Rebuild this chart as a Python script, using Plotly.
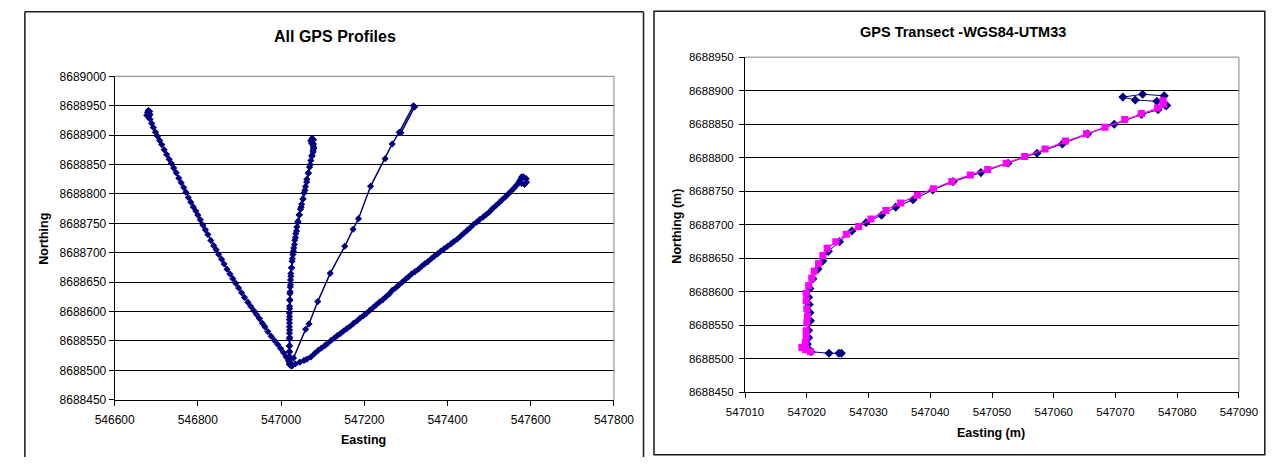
import plotly.graph_objects as go

# ---------------- data ----------------
# Profile 1 (north-west leg)
p1_east = [547026, 547022, 547018, 547012, 547006, 546999, 546992, 546984, 546976, 546968,
           546961, 546955, 546948, 546941, 546934, 546927, 546920, 546912, 546905, 546898,
           546891, 546884, 546877, 546870, 546863, 546857, 546850, 546844, 546838, 546831,
           546824, 546818, 546812, 546806, 546800, 546795, 546789, 546783, 546777, 546771,
           546766, 546760, 546754, 546748, 546742, 546736, 546731, 546725, 546719, 546713,
           546708, 546703, 546698, 546693, 546689, 546685, 546682, 546679, 546681, 546684,
           546685, 546681, 546677]
p1_north = [8688508, 8688512, 8688517, 8688523, 8688530, 8688537, 8688544, 8688551, 8688558, 8688566,
            8688574, 8688580, 8688588, 8688595, 8688602, 8688609, 8688616, 8688624, 8688632, 8688640,
            8688648, 8688656, 8688664, 8688672, 8688681, 8688689, 8688697, 8688705, 8688712, 8688721,
            8688731, 8688739, 8688747, 8688756, 8688764, 8688771, 8688778, 8688786, 8688794, 8688803,
            8688811, 8688819, 8688827, 8688836, 8688844, 8688852, 8688859, 8688867, 8688875, 8688884,
            8688891, 8688898, 8688905, 8688913, 8688920, 8688927, 8688933, 8688939, 8688942, 8688940,
            8688935, 8688931, 8688934]

# Profile 3 (north-east leg, sparse)
p3_east = [547030, 547059, 547067, 547088, 547118, 547153, 547173, 547186, 547215, 547250,
           547267, 547284, 547318, 547321, 547288]
p3_north = [8688521, 8688570, 8688579, 8688617, 8688665, 8688711, 8688740, 8688758, 8688813, 8688860,
            8688885, 8688905, 8688950, 8688948, 8688904]

# Profile 4 (east-north-east leg)
p4_east = [547026, 547034, 547045, 547055, 547062, 547072, 547081, 547089, 547097, 547105,
           547112, 547120, 547128, 547135, 547143, 547150, 547158, 547166, 547174, 547182,
           547190, 547198, 547205, 547213, 547220, 547228, 547236, 547244, 547252, 547260,
           547267, 547275, 547283, 547291, 547299, 547306, 547314, 547322, 547330, 547338,
           547345, 547353, 547361, 547368, 547376, 547384, 547392, 547400, 547408, 547415,
           547423, 547431, 547439, 547447, 547455, 547462, 547470, 547478, 547486, 547493,
           547500, 547508, 547516, 547524, 547531, 547539, 547546, 547553, 547560, 547566,
           547572, 547577, 547583, 547589, 547590, 547585, 547578, 547574, 547578]
p4_north = [8688508, 8688511, 8688514, 8688517, 8688519, 8688523, 8688529, 8688534, 8688538, 8688542,
            8688546, 8688551, 8688555, 8688559, 8688563, 8688567, 8688571, 8688575, 8688580, 8688584,
            8688589, 8688593, 8688597, 8688602, 8688606, 8688611, 8688616, 8688620, 8688625, 8688630,
            8688636, 8688640, 8688645, 8688650, 8688655, 8688659, 8688664, 8688668, 8688672, 8688677,
            8688681, 8688685, 8688690, 8688694, 8688698, 8688703, 8688707, 8688711, 8688715, 8688719,
            8688723, 8688728, 8688733, 8688738, 8688743, 8688748, 8688752, 8688757, 8688761, 8688765,
            8688769, 8688775, 8688780, 8688785, 8688790, 8688795, 8688800, 8688805, 8688810, 8688815,
            8688820, 8688826, 8688829, 8688826, 8688820, 8688816, 8688818, 8688823, 8688829]

# GPS transect (profile 2) - two recordings
tr_a_east = [547025.6, 547025.2, 547023.6, 547020.7, 547020.2, 547020.1, 547020.3, 547020.3, 547020.6,
             547020.5, 547020.4, 547020.3, 547020.5, 547021.0, 547021.8, 547022.6, 547023.5, 547025.3,
             547027.3, 547029.6, 547032.1, 547034.4, 547037.2, 547040.4, 547043.7, 547048.2, 547052.6,
             547057.3, 547061.4, 547065.5, 547069.8, 547074.2, 547076.9, 547078.1, 547076.7, 547073.2,
             547071.2, 547074.4, 547077.9, 547078.3]
tr_a_north = [8688507.8, 8688507.8, 8688507.8, 8688510.2, 8688515.0, 8688521.5, 8688531.2, 8688542.0,
              8688556.4, 8688568.5, 8688580.6, 8688591.5, 8688604.6, 8688619.1, 8688633.5, 8688645.6,
              8688660.0, 8688674.5, 8688690.4, 8688702.9, 8688714.0, 8688726.0, 8688737.1, 8688751.6,
              8688764.1, 8688777.6, 8688791.5, 8688806.5, 8688820.4, 8688835.4, 8688849.8, 8688864.3,
              8688871.5, 8688877.7, 8688884.1, 8688886.0, 8688890.3, 8688894.6, 8688892.2, 8688877.7]

tr_b_east = [547020.6, 547019.8, 547019.2, 547019.75, 547019.9, 547019.9, 547020.0, 547020.1, 547020.0,
             547019.9, 547019.9, 547020.3, 547020.8, 547021.2, 547021.9, 547022.6, 547023.3, 547024.7,
             547026.4, 547028.4, 547030.4, 547032.8, 547035.2, 547037.9, 547040.5, 547043.5, 547046.5,
             547049.3, 547052.3, 547055.3, 547058.6, 547061.9, 547065.3, 547068.3, 547071.5, 547074.2,
             547076.8, 547077.8, 547077.7]
tr_b_north = [8688510.2, 8688513.1, 8688516.5, 8688523.7, 8688532.4, 8688541.5, 8688553.6, 8688563.2,
              8688574.3, 8688586.3, 8688597.4, 8688608.9, 8688620.0, 8688630.6, 8688641.7, 8688653.8,
              8688664.8, 8688674.5, 8688685.6, 8688697.1, 8688708.2, 8688721.2, 8688732.3, 8688743.8,
              8688753.5, 8688764.5, 8688774.2, 8688782.4, 8688791.5, 8688801.6, 8688812.7, 8688824.8,
              8688835.8, 8688845.5, 8688857.0, 8688865.7, 8688873.9, 8688880.2, 8688885.0]

# ---------------- figure ----------------
W, H = 1288, 464
NAVY = "#000080"
MAG = "#FF00FF"
FONT = "Liberation Sans, Arial, sans-serif"

fig = go.Figure()

def left_trace(xs, ys):
    fig.add_trace(go.Scatter(x=xs, y=ys, mode="lines+markers", xaxis="x", yaxis="y",
                             line=dict(color=NAVY, width=1.5),
                             marker=dict(symbol="diamond", size=5.5, color=NAVY),
                             showlegend=False, hoverinfo="x+y"))

left_trace(p1_east, p1_north)
left_trace(tr_a_east, tr_a_north)
left_trace(tr_b_east, tr_b_north)
left_trace(p3_east, p3_north)
left_trace(p4_east, p4_north)

fig.add_trace(go.Scatter(x=tr_a_east, y=tr_a_north, mode="lines+markers", xaxis="x2", yaxis="y2",
                         line=dict(color=NAVY, width=1),
                         marker=dict(symbol="diamond", size=7, color=NAVY),
                         showlegend=False))
fig.add_trace(go.Scatter(x=tr_b_east, y=tr_b_north, mode="lines+markers", xaxis="x2", yaxis="y2",
                         line=dict(color=MAG, width=1.3),
                         marker=dict(symbol="square", size=7, color=MAG),
                         showlegend=False))

def px_x(p):
    return p / W

def px_y(p):
    return 1 - p / H

axis_common = dict(showline=True, linecolor="black", linewidth=1, ticks="outside",
                   ticklen=5, tickcolor="black", tickwidth=1, zeroline=False,
                   tickformat="d", color="black")

fig.update_layout(
    width=W, height=H, margin=dict(l=0, r=0, t=0, b=0), autosize=False,
    paper_bgcolor="white", plot_bgcolor="white",
    font=dict(family=FONT, color="black"),
    xaxis=dict(domain=[px_x(97.7), px_x(613)], range=[546600, 547800], dtick=200,
               showgrid=False, anchor="y", tickfont=dict(size=12, family=FONT),
               ticklabelstandoff=4, **axis_common),
    yaxis=dict(domain=[px_y(405), px_y(71.5)], range=[8688450, 8689000], dtick=50,
               showgrid=True, gridcolor="black", gridwidth=1, anchor="x",
               tickfont=dict(size=12, family=FONT), **axis_common),
    xaxis2=dict(domain=[px_x(748.3), px_x(1258)], range=[547010, 547090], dtick=10,
                showgrid=False, anchor="y2", tickfont=dict(size=11.5, family=FONT),
                ticklabelstandoff=4, **axis_common),
    yaxis2=dict(domain=[px_y(397), px_y(51.7)], range=[8688450, 8688950], dtick=50,
                showgrid=True, gridcolor="black", gridwidth=1, anchor="x2",
                tickfont=dict(size=11.5, family=FONT), ticklabelstandoff=3, **axis_common),
)

shapes = []
# plot-area grey top/right edges
for xr, yr in (("x domain", "y domain"), ("x2 domain", "y2 domain")):
    shapes.append(dict(type="line", xref=xr, yref=yr, x0=0, x1=1, y0=1, y1=1,
                       line=dict(color="#808080", width=1), layer="above"))
    shapes.append(dict(type="line", xref=xr, yref=yr, x0=1, x1=1, y0=0, y1=1,
                       line=dict(color="#808080", width=1), layer="above"))

BORDER = dict(color="#1a1a1a", width=1.5)
# left chart panel: left, top, right edges (bottom edge lies below the picture)
for x0, y0, x1, y1 in ((5, 5, 5, 464), (5, 5, 643.5, 5), (643.5, 5, 643.5, 464)):
    shapes.append(dict(type="line", xref="paper", yref="paper",
                       x0=px_x(x0), x1=px_x(x1), y0=px_y(y0), y1=px_y(y1), line=BORDER))
# right chart panel
shapes.append(dict(type="rect", xref="paper", yref="paper",
                   x0=px_x(654.3), x1=px_x(1284.7), y0=px_y(461.7), y1=px_y(4.5),
                   line=BORDER))
fig.update_layout(shapes=shapes)

ann = [
    dict(text="<b>All GPS Profiles</b>", x=px_x(325.5), y=px_y(30), size=16, angle=0),
    dict(text="<b>GPS Transect -WGS84-UTM33</b>", x=px_x(973), y=px_y(25.8), size=14.5, angle=0),
    dict(text="<b>Easting</b>", x=px_x(355), y=px_y(446), size=12.5, angle=0),
    dict(text="<b>Northing</b>", x=px_x(24.7), y=px_y(239), size=12.5, angle=-90),
    dict(text="<b>Easting (m)</b>", x=px_x(1002.6), y=px_y(439), size=12.5, angle=0),
    dict(text="<b>Northing (m)</b>", x=px_x(677.7), y=px_y(225.8), size=12.5, angle=-90),
]
for a in ann:
    fig.add_annotation(text=a["text"], x=a["x"], y=a["y"], xref="paper", yref="paper",
                       xanchor="center", yanchor="middle", showarrow=False,
                       textangle=a["angle"], font=dict(family=FONT, size=a["size"], color="black"))

fig.write_html(
    "out.html",
    config={"responsive": False, "displayModeBar": False},
    post_script=("document.documentElement.style.margin='0';"
                 "document.body.style.margin='0';document.body.style.padding='0';"
                 "document.body.style.overflow='hidden';"
                 "document.documentElement.style.overflow='hidden';"
                 "document.querySelectorAll('svg').forEach(function(s){s.style.overflow='hidden';});"),
)
